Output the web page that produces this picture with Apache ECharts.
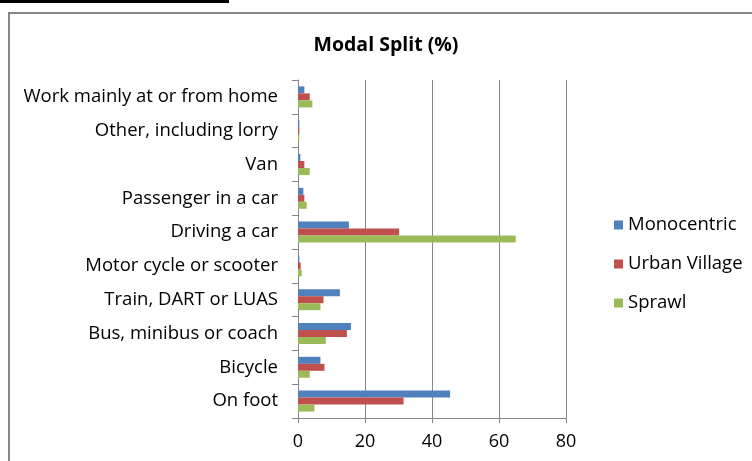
<!DOCTYPE html>
<html>
<head>
<meta charset="utf-8">
<script src="https://cdn.jsdelivr.net/npm/echarts@6.0.0/dist/echarts.min.js"></script>
<style>
  html, body { margin: 0; padding: 0; background: #fff; }
  #chart { width: 752px; height: 461px; }
</style>
</head>
<body>
<div id="chart"></div>
<script>
// Modal split by urban form, in percent
const categories = [
  'Work mainly at or from home',
  'Other, including lorry',
  'Van',
  'Passenger in a car',
  'Driving a car',
  'Motor cycle or scooter',
  'Train, DART or LUAS',
  'Bus, minibus or coach',
  'Bicycle',
  'On foot'
];
const monocentric = [1.9, 0.4, 0.7, 1.6, 15.2, 0.4, 12.5, 15.8, 6.7, 45.4];
const urbanVillage = [3.5, 0.4, 1.9, 1.9, 30.2, 0.8, 7.6, 14.6, 7.9, 31.5];
const sprawl = [4.3, 0.4, 3.5, 2.6, 65.0, 1.1, 6.7, 8.3, 3.5, 4.9];
const xTicks = [0, 20, 40, 60, 80];

const font = '"Open Sans", sans-serif';
const myChart = echarts.init(document.getElementById('chart'), null, { renderer: 'canvas' });

const option = {
  backgroundColor: '#ffffff',
  animation: false,
  title: {
    text: 'Modal Split (%)',
    left: 381,
    top: 30,
    textAlign: 'center',
    textStyle: { fontFamily: font, fontSize: 19.5, fontWeight: 'bold', color: '#000' }
  },
  legend: {
    orient: 'vertical',
    left: 609,
    top: 207,
    itemGap: 13,
    itemWidth: 9,
    itemHeight: 9,
    icon: 'rect',
    textStyle: { fontFamily: font, fontSize: 18.5, color: '#000', lineHeight: 26 },
    data: ['Monocentric', 'Urban Village', 'Sprawl']
  },
  grid: {
    left: 298,
    right: 186,
    top: 80,
    bottom: 43
  },
  xAxis: {
    type: 'value',
    min: xTicks[0],
    max: xTicks[xTicks.length - 1],
    interval: 20,
    axisLine: { show: true, lineStyle: { color: '#868686', width: 1 } },
    axisTick: { show: true, length: 5, lineStyle: { color: '#868686' } },
    axisLabel: { fontFamily: font, fontSize: 18, color: '#000', margin: 15 },
    splitLine: { show: true, lineStyle: { color: '#868686', width: 1 } }
  },
  yAxis: {
    type: 'category',
    inverse: true,
    data: categories,
    axisLine: { show: true, lineStyle: { color: '#868686', width: 1 } },
    axisTick: { show: true, length: 6, lineStyle: { color: '#868686' } },
    axisLabel: { fontFamily: font, fontSize: 18.5, color: '#000', margin: 20 }
  },
  series: [
    {
      name: 'Monocentric',
      type: 'bar',
      data: monocentric,
      barGap: '0%',
      barCategoryGap: '38%',
      itemStyle: { color: '#4F81BD' }
    },
    {
      name: 'Urban Village',
      type: 'bar',
      data: urbanVillage,
      barGap: '0%',
      barCategoryGap: '38%',
      itemStyle: { color: '#C0504D' }
    },
    {
      name: 'Sprawl',
      type: 'bar',
      data: sprawl,
      barGap: '0%',
      barCategoryGap: '38%',
      itemStyle: { color: '#9BBB59' }
    }
  ],
  graphic: [
    {
      type: 'rect',
      shape: { x: 9, y: 13, width: 760, height: 470 },
      style: { fill: 'none', stroke: '#868686', lineWidth: 2 },
      silent: true
    },
    {
      type: 'rect',
      shape: { x: 0, y: 0, width: 229, height: 3 },
      style: { fill: '#000' },
      silent: true
    }
  ]
};

myChart.setOption(option);
window.addEventListener('resize', () => myChart.resize());
</script>
</body>
</html>
